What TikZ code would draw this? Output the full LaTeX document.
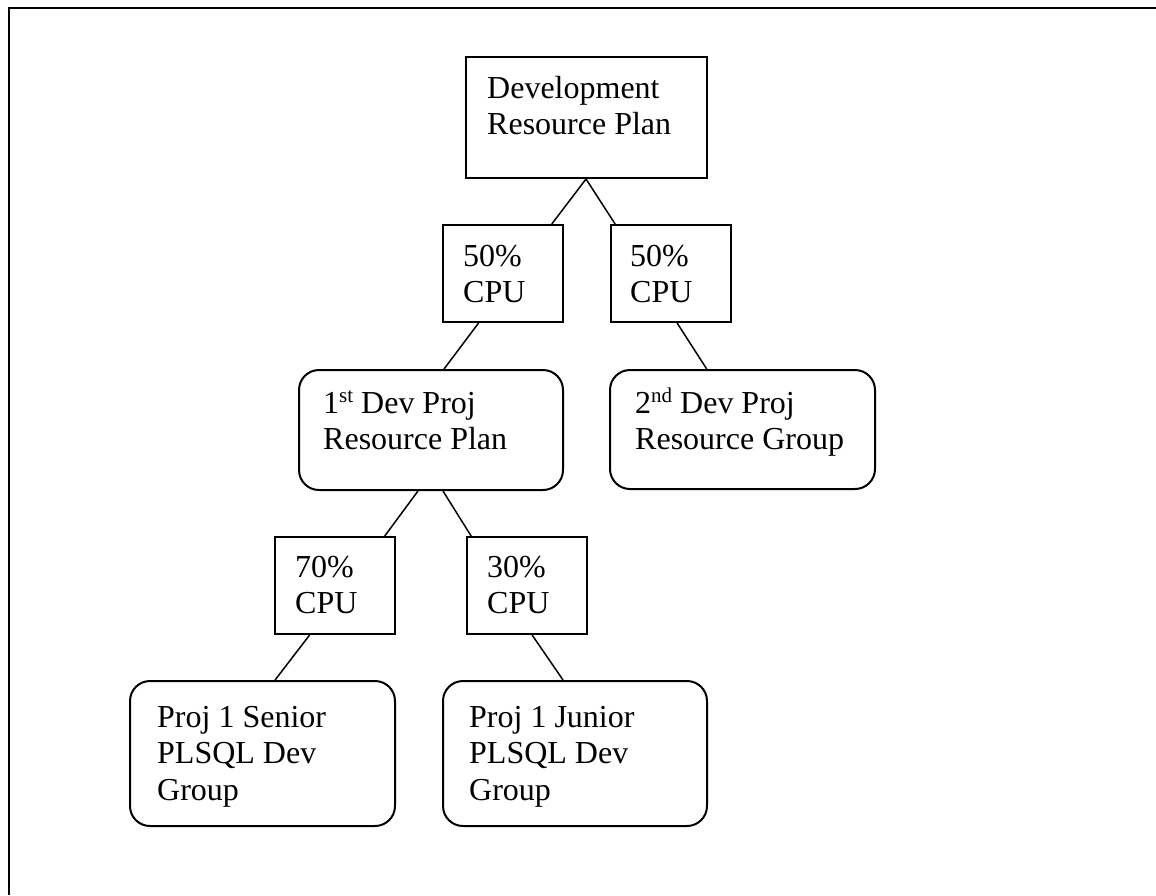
\documentclass[tikz,border=0pt]{standalone}
\usepackage{fontspec}
\setmainfont{Liberation Serif}
\usetikzlibrary{calc}
\newcommand\supx[1]{\raisebox{0.34em}{\fontsize{21}{21}\selectfont #1}}
\tikzset{
  sqbox/.style={draw, line width=2pt, inner sep=0pt, anchor=north west},
  rdbox/.style={sqbox, rounded corners=20pt},
  lbl/.style={anchor=north west, inner sep=0pt, align=left,
    font=\fontsize{32}{36.5}\selectfont},
  link/.style={line width=1.5pt},
  frameline/.style={line width=2pt}
}
\newcommand\st{\rule{0pt}{30pt}}
\begin{document}
\begin{tikzpicture}[x=1pt,y=-1pt]
\useasboundingbox (0,0) rectangle (1156,895);
\draw[frameline] (8.5,895) -- (8.5,8) -- (1156,8);
% boxes
\node[sqbox, minimum width=241pt, minimum height=121pt] (top) at (465,56) {};
\node[sqbox, minimum width=120pt, minimum height=97pt] (c50l) at (442,224) {};
\node[sqbox, minimum width=120pt, minimum height=97pt] (c50r) at (610,224) {};
\node[rdbox, minimum width=264pt, minimum height=120pt] (dev1) at (298,369) {};
\node[rdbox, minimum width=265pt, minimum height=119pt] (dev2) at (609,369) {};
\node[sqbox, minimum width=120pt, minimum height=97pt] (c70) at (274,536) {};
\node[sqbox, minimum width=120pt, minimum height=97pt] (c30) at (466,536) {};
\node[rdbox, minimum width=265pt, minimum height=145pt] (sen) at (129,680) {};
\node[rdbox, minimum width=264pt, minimum height=145pt] (jun) at (442,680) {};
% texts
\node[lbl] (ttop) at (487,68) {\st Development\\Resource Plan};
\node[lbl] (t50l) at (463,236) {\st 50\%\\CPU};
\node[lbl] (t50r) at (630,236) {\st 50\%\\CPU};
\node[lbl] (tdev1) at (323,383) {\st 1\supx{st} Dev Proj\\Resource Plan};
\node[lbl] (tdev2) at (635,383) {\st 2\supx{nd} Dev Proj\\Resource Group};
\node[lbl] (t70) at (295,547) {\st 70\%\\CPU};
\node[lbl] (t30) at (487,547) {\st 30\%\\CPU};
\node[lbl] (tsen) at (157,697) {\st Proj 1 Senior\\PLSQL Dev\\Group};
\node[lbl] (tjun) at (469,697) {\st Proj 1 Junior\\PLSQL Dev\\Group};
% connectors
\draw[link] ($(top.south west)!0.498!(top.south east)$) -- ($(c50l.north west)!0.9!(c50l.north east)$);
\draw[link] ($(top.south west)!0.498!(top.south east)$) -- ($(c50r.north west)!0.042!(c50r.north east)$);
\draw[link] ($(c50l.south west)!0.3!(c50l.south east)$) -- ($(dev1.north west)!0.549!(dev1.north east)$);
\draw[link] ($(c50r.south west)!0.55!(c50r.south east)$) -- ($(dev2.north west)!0.366!(dev2.north east)$);
\draw[link] ($(dev1.south west)!0.451!(dev1.south east)$) -- ($(c70.north west)!0.908!(c70.north east)$);
\draw[link] ($(dev1.south west)!0.545!(dev1.south east)$) -- ($(c30.north west)!0.042!(c30.north east)$);
\draw[link] ($(c70.south west)!0.292!(c70.south east)$) -- ($(sen.north west)!0.547!(sen.north east)$);
\draw[link] ($(c30.south west)!0.542!(c30.south east)$) -- ($(jun.north west)!0.455!(jun.north east)$);
\end{tikzpicture}
\end{document}
